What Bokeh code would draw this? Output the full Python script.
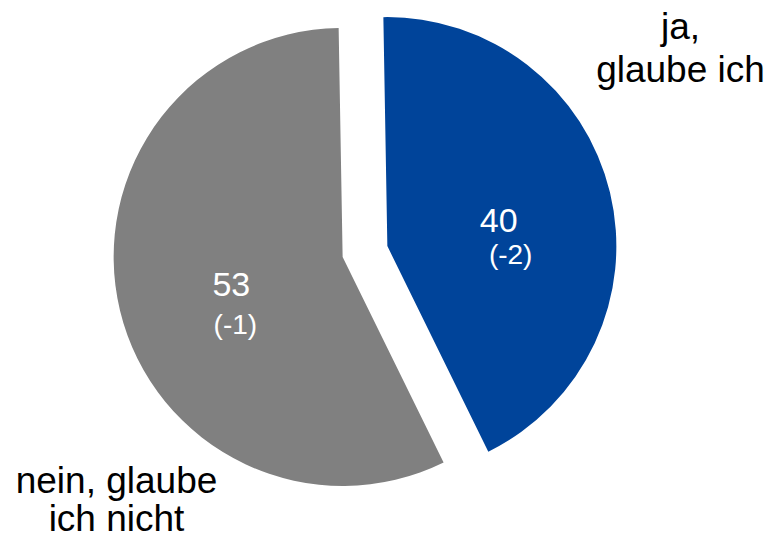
import math
from bokeh.plotting import figure
from bokeh.core.properties import value
from bokeh.embed import file_html
from bokeh.resources import INLINE

# ---- data ----
categories = ["ja, glaube ich", "nein, glaube ich nicht"]
values = [40, 53]
changes = ["(-2)", "(-1)"]
label_lines = [["ja,", "glaube ich"], ["nein, glaube", "ich nicht"]]
colors = ["#00449A", "#808080"]

# ---- layout ----
W, H = 770, 539
base_x, base_y = 364.5, 288.0      # pie centre (px in plot space)
radius = 229.0
explode = 23.0
start_deg = 91.0                   # first slice starts at top, goes clockwise
label_frac = 0.5
text_shift = 11                    # compensates baseline rendering
value_dy = -12
change_offsets = [(12, -46), (4, -52)]
outer_label_pos = [(680, [502, 459]), (116, [48, 10])]

FONT = value("Liberation Sans")

p = figure(width=W, height=H, x_range=(0, W), y_range=(0, H),
           output_backend="svg", toolbar_location=None, min_border=0,
           x_axis_location=None, y_axis_location=None)
p.grid.visible = False
p.outline_line_color = None
p.background_fill_color = "white"
p.border_fill_color = "white"

total = sum(values)
cur = math.radians(start_deg)
for i, v in enumerate(values):
    sweep = v / total * 2 * math.pi
    end_a = cur
    start_a = cur - sweep
    mid = cur - sweep / 2
    cur = start_a
    cx = base_x + explode * math.cos(mid)
    cy = base_y + explode * math.sin(mid)
    p.wedge(x=[cx], y=[cy], radius=radius, start_angle=[start_a], end_angle=[end_a],
            fill_color=colors[i], line_color=None, direction="anticlock")
    lx = cx + label_frac * radius * math.cos(mid)
    ly = cy + label_frac * radius * math.sin(mid)
    p.text(x=[lx], y=[ly + value_dy + text_shift], text=[str(v)], text_color="white",
           text_font=FONT, text_font_size=value("34px"),
           text_align="center", text_baseline="alphabetic")
    dx, dy = change_offsets[i]
    p.text(x=[lx + dx], y=[ly + dy + text_shift], text=[changes[i]], text_color="white",
           text_font=FONT, text_font_size=value("28px"),
           text_align="center", text_baseline="alphabetic")
    ox, oys = outer_label_pos[i]
    for line, oy in zip(label_lines[i], oys):
        p.text(x=[ox], y=[oy + text_shift], text=[line], text_color="black",
               text_font=FONT, text_font_size=value("37px"),
               text_align="center", text_baseline="alphabetic")

open("out.html", "w").write(file_html(p, INLINE))
